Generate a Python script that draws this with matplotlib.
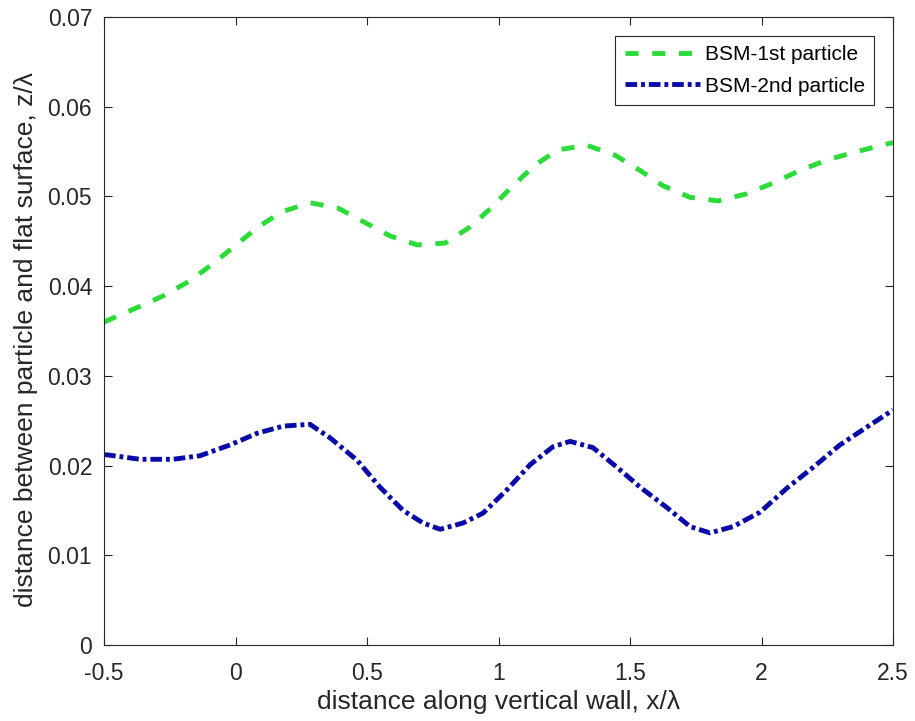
import matplotlib
matplotlib.use("Agg")
import matplotlib.pyplot as plt

plt.rcParams['font.family'] = ['Liberation Sans', 'DejaVu Sans']

# First particle trajectory (x/lambda, z/lambda)
x1 = [-0.5, -0.477, -0.375, -0.276, -0.173, -0.086, -0.002, 0.086, 0.177, 0.283,
      0.390, 0.485, 0.587, 0.690, 0.797, 0.892, 0.975, 1.051, 1.139, 1.226,
      1.336, 1.443, 1.538, 1.625, 1.728, 1.835, 1.945, 2.044, 2.146, 2.253,
      2.363, 2.470, 2.5]
z1 = [0.0360, 0.0363, 0.0376, 0.0389, 0.0406, 0.0425, 0.0445, 0.0466, 0.0483, 0.0493,
      0.0487, 0.0472, 0.0456, 0.0446, 0.0448, 0.0466, 0.0488, 0.0511, 0.0535, 0.0552,
      0.0557, 0.0546, 0.0529, 0.0512, 0.0499, 0.0495, 0.0503, 0.0515, 0.0529, 0.0541,
      0.0550, 0.0558, 0.0560]

# Second particle trajectory
x2 = [-0.5, -0.489, -0.363, -0.238, -0.135, -0.021, 0.082, 0.181, 0.283, 0.359,
      0.462, 0.549, 0.637, 0.713, 0.778, 0.865, 0.941, 1.032, 1.120, 1.207,
      1.272, 1.359, 1.451, 1.538, 1.641, 1.728, 1.804, 1.892, 1.994, 2.097,
      2.196, 2.298, 2.401, 2.5]
z2 = [0.0212, 0.0212, 0.0207, 0.0207, 0.0211, 0.0223, 0.0236, 0.0244, 0.0246, 0.0231,
      0.0206, 0.0176, 0.0150, 0.0136, 0.0129, 0.0136, 0.0147, 0.0173, 0.0201, 0.0221,
      0.0227, 0.0220, 0.0198, 0.0176, 0.0153, 0.0132, 0.0125, 0.0132, 0.0148, 0.0175,
      0.0198, 0.0223, 0.0243, 0.0262]

xticks = [-0.5, 0, 0.5, 1, 1.5, 2, 2.5]
xticklabels = ['-0.5', '0', '0.5', '1', '1.5', '2', '2.5']
yticks = [0, 0.01, 0.02, 0.03, 0.04, 0.05, 0.06, 0.07]
yticklabels = ['0', '0.01', '0.02', '0.03', '0.04', '0.05', '0.06', '0.07']

fig = plt.figure(figsize=(9.15, 7.21), dpi=100)
ax = fig.add_axes([0.1137, 0.1054, 0.8623, 0.871])

ax.plot(x1, z1, color='#2bdc38', lw=3.5, dashes=(2.7, 2.8), label='BSM-1st particle')
ax.plot(x2, z2, color='#0a0aa8', lw=3.5, dashes=(2.4, 0.8, 0.8, 0.8), label='BSM-2nd particle')

ax.set_xlim(-0.5, 2.5)
ax.set_ylim(0, 0.07)
ax.set_xticks(xticks)
ax.set_xticklabels(xticklabels)
ax.set_yticks(yticks)
ax.set_yticklabels(yticklabels)
ax.tick_params(direction='in', top=True, right=True, length=6, width=0.8,
               labelsize=16.5, colors='#262626')
ax.tick_params(axis='x', pad=12)
ax.tick_params(axis='y', pad=8.5)
for s in ax.spines.values():
    s.set_color('#262626')
    s.set_linewidth(0.8)

ax.set_xlabel('distance along vertical wall, x/\u03bb', fontsize=19, color='#262626', labelpad=4)
ax.set_ylabel('distance between particle and flat surface, z/\u03bb', fontsize=19,
              color='#262626', labelpad=6)
ax.yaxis.set_label_coords(-0.084, 0.486)

leg = ax.legend(loc='upper right', fontsize=15, fancybox=False, edgecolor='#262626',
                framealpha=1, handlelength=3.6, borderpad=0.45, labelspacing=0.6,
                handletextpad=0.25, borderaxespad=0.9)
leg.get_frame().set_linewidth(0.8)

fig.savefig('out.png', dpi=100)
